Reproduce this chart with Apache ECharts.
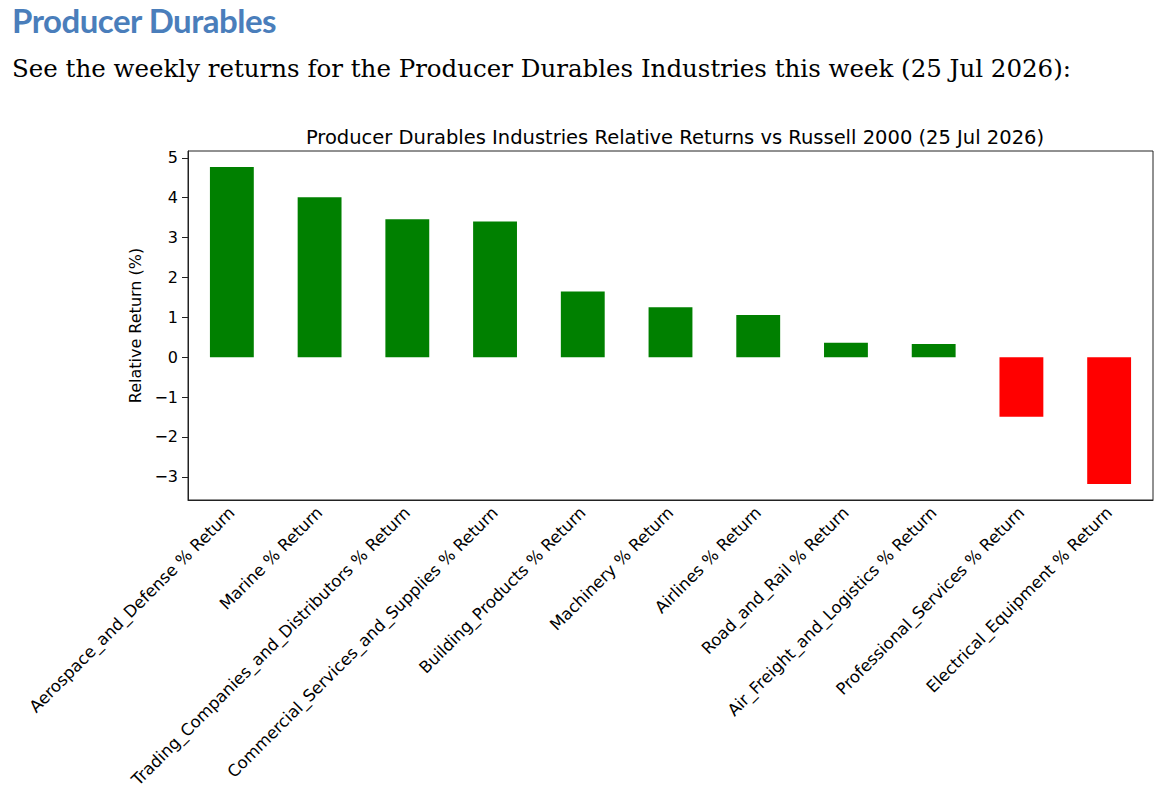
<!DOCTYPE html>
<html>
<head>
<meta charset="utf-8">
<script src="https://cdn.jsdelivr.net/npm/echarts@6/dist/echarts.min.js"></script>
<style>
  html, body { margin: 0; padding: 0; background: #fff; }
  #page { position: relative; width: 1164px; height: 798px; overflow: hidden; }
  #heading { position: absolute; left: 12px; top: 0px; font-family: Lato, "Open Sans", sans-serif; font-weight: bold; font-size: 33px; color: #4a7ebb; letter-spacing: -0.5px; }
  #intro { position: absolute; left: 12px; top: 54px; font-family: "DejaVu Serif", serif; font-size: 24.5px; color: #000; white-space: nowrap; }
  #chart { position: absolute; left: 0; top: 0; width: 1164px; height: 798px; }
</style>
</head>
<body>
<div id="page">
  <div id="chart"></div>
  <div id="heading">Producer Durables</div>
  <div id="intro">See the weekly returns for the Producer Durables Industries this week (25 Jul 2026):</div>
</div>
<script>
var industries = [
  'Aerospace_and_Defense % Return',
  'Marine % Return',
  'Trading_Companies_and_Distributors % Return',
  'Commercial_Services_and_Supplies % Return',
  'Building_Products % Return',
  'Machinery % Return',
  'Airlines % Return',
  'Road_and_Rail % Return',
  'Air_Freight_and_Logistics % Return',
  'Professional_Services % Return',
  'Electrical_Equipment % Return'
];
var relReturns = [4.77, 4.01, 3.46, 3.40, 1.65, 1.25, 1.06, 0.36, 0.33, -1.49, -3.18];
var yTicks = [-3, -2, -1, 0, 1, 2, 3, 4, 5];

(function() {
  var font = '"DejaVu Sans", sans-serif';
  var chart = echarts.init(document.getElementById('chart'), null, { renderer: 'svg' });
  chart.setOption({
    animation: false,
    title: {
      text: 'Producer Durables Industries Relative Returns vs Russell 2000 (25 Jul 2026)',
      left: 670,
      top: 122,
      textAlign: 'center',
      textStyle: { fontFamily: font, fontSize: 19.5, fontWeight: 'normal', color: '#000' }
    },
    grid: { left: 188, top: 151, width: 965, height: 349, show: true, borderColor: '#222', borderWidth: 1, backgroundColor: 'transparent' },
    xAxis: {
      type: 'category',
      data: industries,
      axisLine: { onZero: false, lineStyle: { color: '#222', width: 1 } },
      axisTick: { alignWithLabel: true, length: 6, lineStyle: { color: '#222' } },
      axisLabel: { rotate: 45, margin: 10, interval: 0, color: '#000', fontFamily: font, fontSize: 16.5 }
    },
    yAxis: {
      type: 'value',
      min: -3.58,
      max: 5.17,
      name: 'Relative Return (%)',
      nameLocation: 'middle',
      nameGap: 43,
      nameTextStyle: { fontFamily: font, fontSize: 16, color: '#000' },
      axisLine: { show: true, lineStyle: { color: '#222', width: 1 } },
      axisTick: { show: true, length: 6, lineStyle: { color: '#222' }, customValues: yTicks },
      axisLabel: {
        color: '#000', fontFamily: font, fontSize: 16, margin: 10,
        customValues: yTicks,
        formatter: function(v) { return v < 0 ? '\u2212' + Math.abs(v) : String(v); }
      },
      splitLine: { show: false }
    },
    series: [{
      type: 'bar',
      data: relReturns,
      barWidth: '50%',
      itemStyle: {
        color: function(p) { return p.value >= 0 ? '#008000' : '#ff0000'; }
      }
    }]
  });
})();
</script>
</body>
</html>
